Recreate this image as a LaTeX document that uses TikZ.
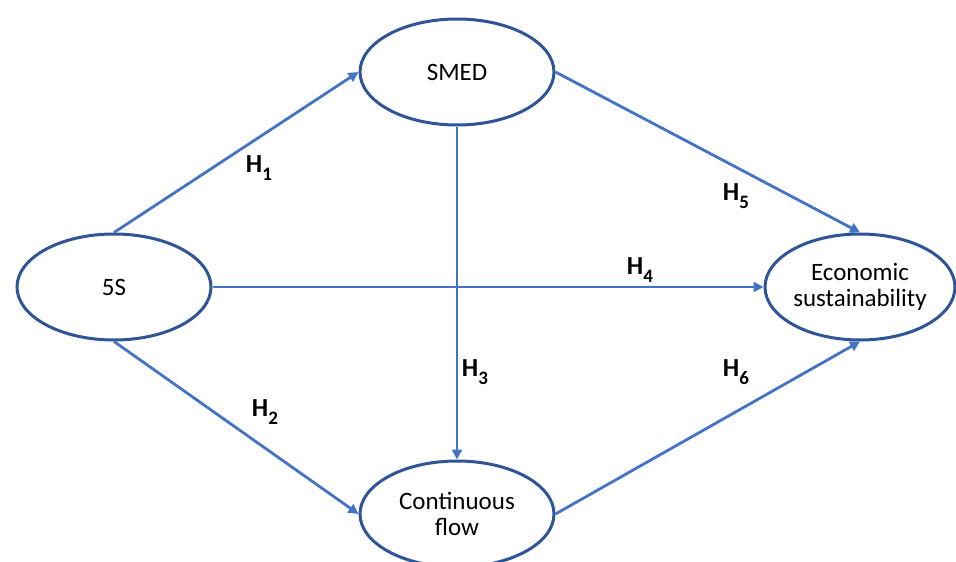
\documentclass[tikz,border=0pt]{standalone}
\usepackage{fontspec}
\setmainfont{Carlito}
\usetikzlibrary{arrows.meta,shapes.geometric}
\definecolor{edgeblue}{HTML}{2F5597}
\definecolor{linkblue}{HTML}{4472C4}
\tikzset{
  construct/.style={ellipse, draw=edgeblue, line width=3pt, fill=white,
    minimum width=194pt, minimum height=106pt, inner sep=0pt,
    align=center, font=\fontsize{25}{26}\selectfont, text=black},
  link/.style={draw=linkblue, line width=2.8pt,
    -{Triangle[length=10pt,width=10pt]}},
  hyp/.style={font=\fontsize{26}{28}\selectfont\bfseries, text=black}
}
\newcommand{\hlab}[1]{H\raisebox{-0.28em}{\fontsize{19}{20}\selectfont #1}}
\begin{document}
\begin{tikzpicture}[x=1pt,y=-1pt]
\useasboundingbox (0,0) rectangle (956,562);
\node[construct] (smed) at (457,72) {SMED};
\node[construct] (fiveS) at (114,287) {5S};
\node[construct, minimum width=190pt] (econ) at (860,287) {Economic\\sustainability};
\node[construct] (flow) at (457,514) {Continuous\\flow};

\draw[link] (fiveS.north) -- (smed.west);
\draw[link] (smed.south) -- (flow.north);
\draw[link] (fiveS.east) -- (econ.west);
\draw[link] (smed.east) -- (econ.north);
\draw[link] (fiveS.south) -- (flow.west);
\draw[link] (flow.east) -- (econ.south);

\node[hyp] (h1) at (259,168) {\hlab{1}};
\node[hyp] (h2) at (265,412) {\hlab{2}};
\node[hyp] (h3) at (475,372) {\hlab{3}};
\node[hyp] (h4) at (640,270) {\hlab{4}};
\node[hyp] (h5) at (736,196) {\hlab{5}};
\node[hyp] (h6) at (736,372) {\hlab{6}};
\end{tikzpicture}
\end{document}
